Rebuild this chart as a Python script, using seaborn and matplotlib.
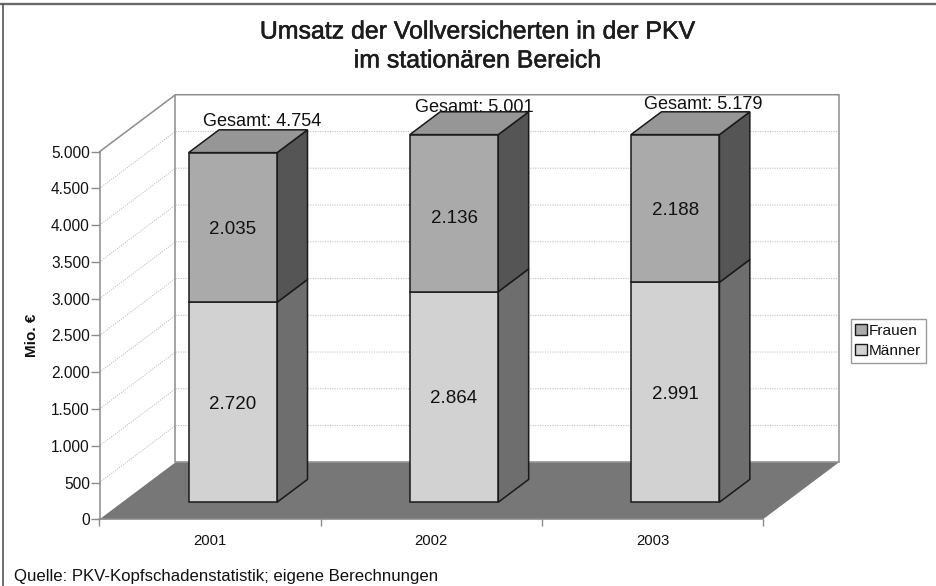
import numpy as np
import pandas as pd
import matplotlib
matplotlib.use("Agg")
import matplotlib.pyplot as plt
import matplotlib.patheffects as pe
from matplotlib.lines import Line2D
from matplotlib.patches import Polygon, Rectangle
import seaborn as sns

years = ["2001", "2002", "2003"]
maenner = [2720, 2864, 2991]
frauen = [2035, 2136, 2188]
gesamt = [4754, 5001, 5179]
y_ticks = [0, 500, 1000, 1500, 2000, 2500, 3000, 3500, 4000, 4500, 5000]
title = "Umsatz der Vollversicherten in der PKV\nim stationären Bereich"
source = "Quelle: PKV-Kopfschadenstatistik; eigene Berechnungen"

Y_MAX = 5000
DX, DY = 0.3436, 775.0      # oblique shift of the full floor depth, in data units
D0, D1 = 0.30, 0.70         # bar extent along the depth
BAR_W = 0.40
COL = {"Männer": ("#d2d2d2", "#6e6e6e"), "Frauen": ("#aaaaaa", "#555555")}
TOP = "#969696"
FLOOR = "#777777"
WALL = "#8c8c8c"
GRID = "#c2c2c2"
EDGE = "#1a1a1a"
TXT = "#111111"

sns.set_theme(style="white")
plt.rcParams["font.family"] = ["Liberation Sans", "DejaVu Sans"]
W, H = 936, 586
fig = plt.figure(figsize=(W / 100, H / 100), dpi=100, facecolor="white")
ax = fig.add_axes([99.5 / W, (H - 519.3) / H, 663.5 / W, 367.6 / H])
ax.set_facecolor("none")

m = np.array(maenner, float)
f = np.minimum(np.array(maenner) + np.array(frauen), Y_MAX) - m
df = pd.DataFrame({"Jahr": years, "Männer": m, "Frauen": f})


def proj(x, y, d):
    return (x + d * DX, y + d * DY)


x0, x1 = -0.5, 2.5
ax.add_patch(Polygon([proj(x0, 0, 0), proj(x1, 0, 0), proj(x1, 0, 1), proj(x0, 0, 1)],
                     closed=True, fc=FLOOR, ec="none", zorder=1, clip_on=False))
for v in y_ticks[1:-1]:
    pts = np.array([proj(x0, v, 0), proj(x0, v, 1), proj(x1, v, 1)])
    ax.plot(pts[:, 0], pts[:, 1], color=GRID, lw=0.8, ls=(0, (1, 1.2)), zorder=1.5, clip_on=False)
outline = np.array([proj(x0, Y_MAX, 0), proj(x0, Y_MAX, 1), proj(x1, Y_MAX, 1), proj(x1, 0, 1)])
ax.plot(outline[:, 0], outline[:, 1], color=WALL, lw=1.1, zorder=1.6, clip_on=False)
inner = np.array([proj(x0, Y_MAX, 1), proj(x0, 0, 1), proj(x1, 0, 1)])
ax.plot(inner[:, 0], inner[:, 1], color=WALL, lw=1.1, zorder=1.6, clip_on=False)

sns.barplot(data=df, x="Jahr", y="Männer", color=COL["Männer"][0], width=BAR_W, ax=ax,
            edgecolor=EDGE, linewidth=1.1, zorder=3, errorbar=None)
sns.barplot(data=df, x="Jahr", y="Frauen", bottom=df["Männer"], color=COL["Frauen"][0], width=BAR_W,
            ax=ax, edgecolor=EDGE, linewidth=1.1, zorder=3, errorbar=None)
bars = [p for p in ax.patches if isinstance(p, Rectangle)]
seg = {"Männer": bars[:3], "Frauen": bars[3:6]}

labels = {"Männer": maenner, "Frauen": frauen}
label_nudge = {("Frauen", 1): -40}
for name in ("Männer", "Frauen"):
    for i, p in enumerate(seg[name]):
        xa, ya = p.get_x(), p.get_y()
        w, h = p.get_width(), p.get_height()
        p.set_x(xa + D0 * DX)
        p.set_y(ya + D0 * DY)
        p.set_clip_on(False)
        xr = xa + w
        side = [proj(xr, ya, D0), proj(xr, ya, D1), proj(xr, ya + h, D1), proj(xr, ya + h, D0)]
        ax.add_patch(Polygon(side, closed=True, fc=COL[name][1], ec=EDGE, lw=1.1,
                             zorder=2.8, clip_on=False))
        if name == "Frauen":
            top = [proj(xa, ya + h, D0), proj(xr, ya + h, D0), proj(xr, ya + h, D1), proj(xa, ya + h, D1)]
            ax.add_patch(Polygon(top, closed=True, fc=TOP, ec=EDGE, lw=1.1,
                                 zorder=2.8, clip_on=False))
        cx, cy = proj(xa + w / 2, ya + h / 2, D0)
        ax.text(cx, cy - 27 + label_nudge.get((name, i), 0), f"{labels[name][i]:,}".replace(",", "."),
                ha="center", va="center", fontsize=13.5, color=TXT, zorder=5)

total_xy = [(0.237, 5405), (1.193, 5595), (2.231, 5640)]
for (tx, ty), g in zip(total_xy, gesamt):
    ax.text(tx, ty, "Gesamt: " + f"{g:,}".replace(",", "."), ha="center", va="center",
            fontsize=13.1, color=TXT, zorder=6, clip_on=False)

ax.set_xlim(x0, x1)
ax.set_ylim(0, Y_MAX)
ax.set_xlabel("")
ax.set_ylabel("Mio. €", fontsize=11, fontweight="bold", color=TXT)
ax.yaxis.set_label_coords(-60.5 / 663.5, 0.5)
ax.set_yticks(y_ticks)
ax.set_yticklabels([f"{v:,}".replace(",", ".") for v in y_ticks], fontsize=11.2, color=TXT)
ax.tick_params(axis="y", left=True, length=6.2, width=1.0, color=WALL, pad=0.8)
ax.set_xticks([0, 1, 2])
ax.set_xticklabels(years, fontsize=10.7, color=TXT)
ax.set_xticks([-0.5, 0.5, 1.5, 2.5], minor=True)
ax.tick_params(axis="x", which="major", bottom=False, pad=4.4)
ax.tick_params(axis="x", which="minor", bottom=True, length=5, width=1.0, color=WALL)
sns.despine(ax=ax, top=True, right=True)
for s in ("left", "bottom"):
    ax.spines[s].set_color(WALL)
    ax.spines[s].set_linewidth(1.1)
    ax.spines[s].set_zorder(1.7)

handles = [Rectangle((0, 0), 1, 1, fc=COL[k][0], ec=EDGE, lw=1.0) for k in ("Frauen", "Männer")]
leg = fig.legend(handles, ["Frauen", "Männer"], loc="upper left",
                 bbox_to_anchor=(850.5 / W, 1 - 319 / H), bbox_transform=fig.transFigure,
                 fontsize=11.1, frameon=True, fancybox=False, edgecolor="#9a9a9a",
                 framealpha=1, borderpad=0.3, labelspacing=0.42, handlelength=0.75,
                 handleheight=0.75, handletextpad=0.15, borderaxespad=0, labelcolor=TXT)

fig.text(477 / W, 1 - 46 / H, title, ha="center", va="center", fontsize=17.9, color="#1c1c1c",
         linespacing=1.26, path_effects=[pe.withStroke(linewidth=0.4, foreground="#1c1c1c")])
fig.text(14 / W, 1 - 576.5 / H, source, ha="left", va="center", fontsize=12.1, color=TXT)

fig.add_artist(Line2D([0, 1], [1 - 3.7 / H] * 2, transform=fig.transFigure, color="#6a6a6a", lw=1.7))
fig.add_artist(Line2D([3 / W] * 2, [0, 1 - 3.7 / H], transform=fig.transFigure, color="#555555", lw=1.2))
fig.savefig("out.png", dpi=100)
